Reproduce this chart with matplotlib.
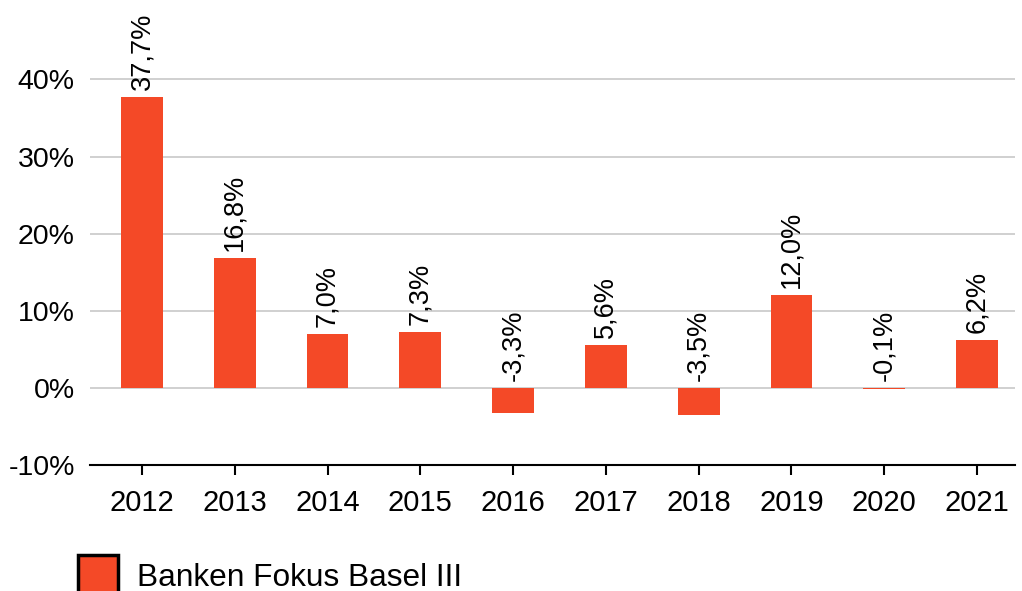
import matplotlib
matplotlib.use("Agg")
import matplotlib.pyplot as plt
from matplotlib.patches import Rectangle

years = ["2012", "2013", "2014", "2015", "2016", "2017", "2018", "2019", "2020", "2021"]
values = [37.7, 16.8, 7.0, 7.3, -3.3, 5.6, -3.5, 12.0, -0.1, 6.2]
labels = ["37,7%", "16,8%", "7,0%", "7,3%", "-3,3%", "5,6%", "-3,5%", "12,0%", "-0,1%", "6,2%"]
y_ticks = [-10, 0, 10, 20, 30, 40]
y_tick_labels = ["-10%", "0%", "10%", "20%", "30%", "40%"]
series_name = "Banken Fokus Basel III"

plt.rcParams['font.family'] = ['Liberation Sans', 'DejaVu Sans']
color = "#F44927"

fig = plt.figure(figsize=(10.22, 5.91), dpi=100)
ax = fig.add_axes([90/1022, 1-465/591, (1015-90)/1022, (465-10)/591])

x = list(range(len(years)))
ax.bar(x, values, width=0.45, color=color, zorder=3)

ax.set_ylim(-10, 49)
ax.set_xlim(-0.56, 9.41)
ax.set_yticks(y_ticks)
ax.set_yticklabels(y_tick_labels, fontsize=20.5)
ax.set_xticks(x)
ax.set_xticklabels(years, fontsize=21)

for yv in y_ticks[1:]:
    ax.axhline(yv, color="#c8c8c8", lw=1.2, zorder=1)

for s in ["left", "right", "top"]:
    ax.spines[s].set_visible(False)
ax.spines["bottom"].set_color("black")
ax.spines["bottom"].set_linewidth(1.5)
ax.tick_params(axis="y", length=0, pad=11)
ax.tick_params(axis="x", length=7, width=1.5, direction="out", pad=10)

for xi, v, lab in zip(x, values, labels):
    base = max(v, 0)
    ax.annotate(lab, (xi, base), xytext=(0, 5), textcoords="offset points",
                rotation=90, ha="center", va="bottom", fontsize=19.5)

fig.patches.append(Rectangle((78/1022, 1-595/591), 40/1022, 40/591,
                             transform=fig.transFigure, facecolor=color,
                             edgecolor="black", lw=2.5))
fig.text(137/1022, 1-578/591, series_name, fontsize=22.8, va="center", ha="left")

fig.savefig("out.png", dpi=100)
